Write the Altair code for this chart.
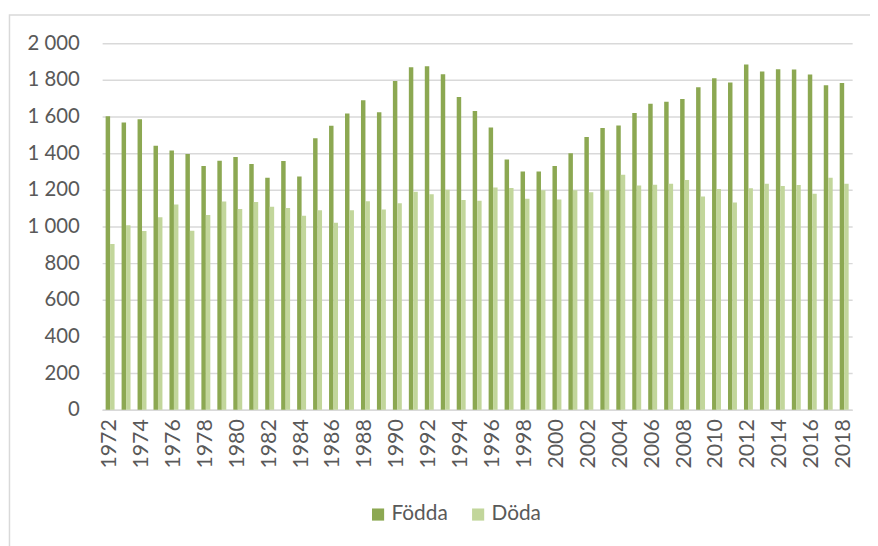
import altair as alt
import pandas as pd

years = list(range(1972, 2019))
fodda = [1601, 1567, 1585, 1440, 1415, 1395, 1330, 1359, 1379, 1341, 1266, 1357, 1273, 1481, 1549,
         1616, 1689, 1623, 1794, 1869, 1874, 1831, 1706, 1630, 1540, 1366, 1300, 1300, 1330, 1400, 1488,
         1537, 1551, 1619, 1670, 1680, 1695, 1759, 1808, 1786, 1883, 1846, 1858, 1856, 1829, 1770, 1783]
doda = [905, 1007, 975, 1050, 1120, 977, 1063, 1136, 1095, 1133, 1108, 1101, 1059, 1088, 1020,
        1088, 1138, 1093, 1126, 1190, 1176, 1201, 1145, 1140, 1212, 1210, 1151, 1197, 1147, 1197, 1187,
        1197, 1282, 1224, 1228, 1233, 1253, 1163, 1205, 1131, 1208, 1233, 1221, 1226, 1178, 1266, 1233]
series = ["Födda", "Döda"]
colors = ["#8CA852", "#C2D69B"]
y_ticks = [0, 200, 400, 600, 800, 1000, 1200, 1400, 1600, 1800, 2000]
x_labels = [str(y) for y in years[::2]]

rows = []
for i, yr in enumerate(years):
    rows.append({"year": str(yr), "serie": series[0], "value": fodda[i]})
    rows.append({"year": str(yr), "serie": series[1], "value": doda[i]})
df = pd.DataFrame(rows)

FONT = "Lato"
GREY = "#595959"

bars = alt.Chart(df).mark_bar().encode(
    x=alt.X("year:N", sort=[str(y) for y in years],
            scale=alt.Scale(paddingInner=0.44, paddingOuter=0.22),
            axis=alt.Axis(title=None, values=x_labels, labelAngle=270, labelFontSize=21.5,
                          labelColor=GREY, labelFont=FONT, ticks=False, domainColor="#d9d9d9",
                          domainWidth=1.5, labelPadding=9, grid=False)),
    xOffset=alt.XOffset("serie:N", sort=series),
    y=alt.Y("value:Q", scale=alt.Scale(domain=[0, 2000], nice=False),
            axis=alt.Axis(title=None, values=y_ticks, ticks=False, domain=False,
                          gridColor="#d9d9d9", gridWidth=1.5, labelFontSize=20.5,
                          labelColor=GREY, labelFont=FONT, labelPadding=23,
                          labelExpr="replace(format(datum.value, ','), ',', ' ')")),
    color=alt.Color("serie:N", sort=series,
                    scale=alt.Scale(domain=series, range=colors),
                    legend=alt.Legend(title=None, orient="none", direction="horizontal",
                                      legendX=268, legendY=465, symbolType="square",
                                      symbolSize=150, symbolStrokeWidth=0, labelFontSize=21,
                                      labelColor=GREY, labelFont=FONT, labelOffset=3,
                                      columnPadding=20)),
)

frame = alt.Chart(pd.DataFrame({"a": [0]})).mark_rect(
    fill="transparent", stroke="#d9d9d9", strokeWidth=1.5
).encode(
    x=alt.value(-93.5), x2=alt.value(820), y=alt.value(-28.5), y2=alt.value(560)
)

chart = alt.layer(frame, bars).properties(
    width=757, height=370,
    autosize=alt.AutoSizeParams(type="none"),
    padding={"left": 95, "top": 33, "right": 18, "bottom": 135},
).configure_view(stroke=None)

chart.save("out.html", embed_options={"renderer": "svg", "actions": False})
